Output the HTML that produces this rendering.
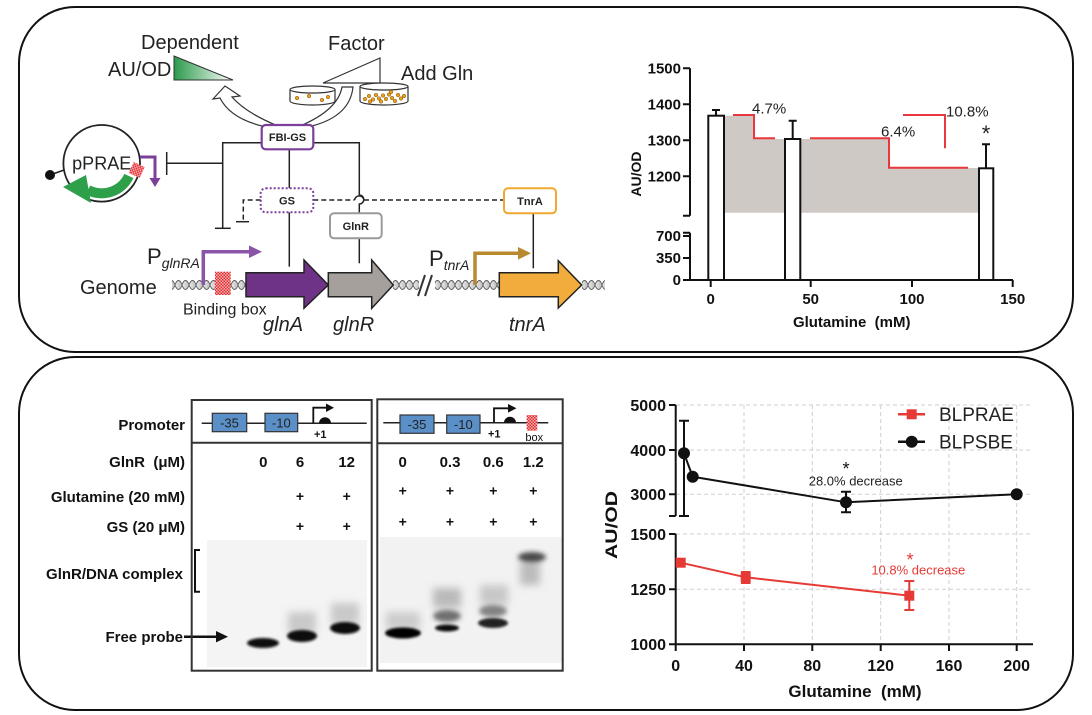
<!DOCTYPE html>
<html>
<head>
<meta charset="utf-8">
<style>
  html,body{margin:0;padding:0;background:#fff;}
  svg{display:block;}
  text{font-family:"Liberation Sans",Arial,sans-serif;}
  .b{font-weight:bold;}
</style>
</head>
<body>
<svg width="1092" height="715" viewBox="0 0 1092 715" xmlns="http://www.w3.org/2000/svg">
<defs>
  <linearGradient id="gg" x1="0" y1="0" x2="1" y2="0">
    <stop offset="0" stop-color="#2b9a4c"/>
    <stop offset="1" stop-color="#ffffff"/>
  </linearGradient>
  <pattern id="chk" width="3" height="3" patternUnits="userSpaceOnUse">
    <rect width="3" height="3" fill="#f6b3b3"/>
    <rect width="1.5" height="1.5" fill="#e3282c"/>
    <rect x="1.5" y="1.5" width="1.5" height="1.5" fill="#e3282c"/>
  </pattern>
  <pattern id="dna" x="0" y="278" width="14" height="14" patternUnits="userSpaceOnUse">
    <path d="M2,3V11M3.2,2.5V11.5M4.4,2.5V11.5M5.6,3.5V10.5M9,3V11M10.2,2.5V11.5M11.4,2.5V11.5M12.6,3.5V10.5" stroke="#b5b5b5" stroke-width="0.7"/>
    <path d="M0,7C2,1 5,1 7,7C9,13 12,13 14,7" fill="none" stroke="#555" stroke-width="0.9"/>
    <path d="M0,7C2,13 5,13 7,7C9,1 12,1 14,7" fill="none" stroke="#555" stroke-width="0.9"/>
  </pattern>
  <filter id="bl1" x="-50%" y="-50%" width="200%" height="200%"><feGaussianBlur stdDeviation="1.2"/></filter>
  <filter id="bl2" x="-50%" y="-50%" width="200%" height="200%"><feGaussianBlur stdDeviation="2.5"/></filter>
  <filter id="bl3" x="-50%" y="-50%" width="200%" height="200%"><feGaussianBlur stdDeviation="4"/></filter>
</defs>

<!-- Panel borders -->
<rect x="19" y="7" width="1054" height="345" rx="56" ry="56" fill="none" stroke="#111" stroke-width="2"/>
<rect x="19" y="357" width="1054" height="353" rx="56" ry="56" fill="none" stroke="#111" stroke-width="2"/>

<!-- ================= TOP LEFT DIAGRAM ================= -->
<text x="141" y="49" font-size="20" fill="#222">Dependent</text>
<text x="108" y="76" font-size="20" fill="#222">AU/OD</text>
<polygon points="174,56 233,80 174,80" fill="url(#gg)" stroke="#333" stroke-width="1"/>

<text x="328" y="50" font-size="20" fill="#222">Factor</text>
<polygon points="323,83 380,58 380,83" fill="#fff" stroke="#333" stroke-width="1.2"/>
<text x="401" y="80" font-size="20" fill="#222">Add Gln</text>

<!-- hollow curved arrows -->
<path d="M262,126 Q230,118 220,98 L213,99 L225,86 L240,96 L232,97 Q246,113 278,126 Z" fill="#fff" stroke="#333" stroke-width="1.2"/>
<path d="M300,126 Q338,110 342,87 L353,87 Q350,116 312,126 Z" fill="#fff" stroke="#333" stroke-width="1.2"/>

<!-- dishes -->
<path d="M290,89.5 V101 A22.5,4 0 0 0 335,101 V89.5" fill="#fff" stroke="#333" stroke-width="1.2"/>
<ellipse cx="312.5" cy="89.5" rx="22.5" ry="3.5" fill="#fff" stroke="#333" stroke-width="1.2"/>
<g fill="#f0a020" stroke="#7a5000" stroke-width="0.5">
  <circle cx="297" cy="98" r="1.8"/><circle cx="309" cy="96" r="1.8"/><circle cx="322" cy="100" r="1.8"/><circle cx="328" cy="97" r="1.8"/>
</g>
<path d="M360,86.5 V101 A24,4 0 0 0 408,101 V86.5" fill="#fff" stroke="#333" stroke-width="1.2"/>
<ellipse cx="384" cy="86.5" rx="24" ry="3.5" fill="#fff" stroke="#333" stroke-width="1.2"/>
<g fill="#f0a020" stroke="#7a5000" stroke-width="0.5">
  <circle cx="365" cy="99" r="1.8"/><circle cx="369" cy="96" r="1.8"/><circle cx="373" cy="99.5" r="1.8"/><circle cx="376" cy="95" r="1.8"/>
  <circle cx="379" cy="98.5" r="1.8"/><circle cx="383" cy="95.5" r="1.8"/><circle cx="386" cy="99" r="1.8"/><circle cx="389" cy="94.5" r="1.8"/>
  <circle cx="392" cy="98" r="1.8"/><circle cx="395" cy="101" r="1.8"/><circle cx="398" cy="95" r="1.8"/><circle cx="401" cy="98.5" r="1.8"/>
  <circle cx="404" cy="96" r="1.8"/><circle cx="370" cy="101.5" r="1.8"/><circle cx="381" cy="101.5" r="1.8"/><circle cx="391" cy="92" r="1.8"/>
</g>

<!-- plasmid -->
<circle cx="101.7" cy="163.3" r="38.3" fill="#fff" stroke="#222" stroke-width="1.8"/>
<text x="101.7" y="169.5" font-size="18" text-anchor="middle" fill="#222">pPRAE</text>
<line x1="50" y1="175" x2="64" y2="170" stroke="#222" stroke-width="1.5"/>
<circle cx="50" cy="175" r="5" fill="#111"/>
<path d="M128.9,176 A30,30 0 0 1 88,190" fill="none" stroke="#2ea04a" stroke-width="10"/>
<polygon points="63,187 86,175 91,203" fill="#2ea04a"/>
<rect x="130.7" y="164" width="12" height="12" fill="url(#chk)" transform="rotate(25 136.7 170)"/>
<path d="M140,157 H155 V179" fill="none" stroke="#7b3f9a" stroke-width="3"/>
<polygon points="149.5,178 160.5,178 155,187" fill="#7b3f9a"/>

<!-- network lines -->
<g stroke="#222" stroke-width="1.5" fill="none">
  <path d="M261.7,142.7 H222.7 V228.3"/>
  <path d="M215,228.3 H230.7"/>
  <path d="M222.7,163.3 H166.7"/>
  <path d="M166.7,152 V175"/>
  <path d="M313.3,142.7 H359.3 V195 A4.5,4.5 0 0 1 359.3,204 V213.3"/>
  <path d="M289.3,149.3 V188.3"/>
  <path d="M289.3,212.3 V266.7"/>
  <path d="M359.3,238.3 V263.3"/>
  <path d="M533.3,213.3 V268.3"/>
  <path d="M236,221.7 H249"/>
</g>
<g stroke="#222" stroke-width="1.5" fill="none" stroke-dasharray="5,3">
  <path d="M260.7,200 H243.3 V221.7"/>
  <path d="M313.3,200 H354.5"/>
  <path d="M364,200 H504"/>
</g>
<path d="M354.5,200 A4.8,4.8 0 0 1 364,200" fill="none" stroke="#222" stroke-width="1.5"/>

<!-- boxes -->
<rect x="261.7" y="125" width="51.6" height="24.3" rx="4" fill="#fff" stroke="#7b3f9a" stroke-width="2.2"/>
<text x="287.5" y="141.2" font-size="11" text-anchor="middle" class="b" fill="#222">FBI-GS</text>
<rect x="260.7" y="188.3" width="52.6" height="24" rx="5" fill="#fff" stroke="#7b3f9a" stroke-width="2" stroke-dasharray="2,2"/>
<text x="287" y="204.5" font-size="11" text-anchor="middle" class="b" fill="#222">GS</text>
<rect x="330" y="213.3" width="51.7" height="25" rx="4" fill="#fff" stroke="#9a9a9a" stroke-width="2"/>
<text x="355.8" y="230" font-size="11" text-anchor="middle" class="b" fill="#222">GlnR</text>
<rect x="504" y="188.3" width="52" height="25" rx="4" fill="#fff" stroke="#f0a830" stroke-width="2"/>
<text x="530" y="205" font-size="11" text-anchor="middle" class="b" fill="#222">TnrA</text>

<!-- genome -->
<text x="80" y="294" font-size="20" fill="#222">Genome</text>
<rect x="172" y="278" width="74" height="14" fill="url(#dna)"/>
<rect x="393" y="278" width="107" height="14" fill="url(#dna)"/>
<rect x="582" y="278" width="23" height="14" fill="url(#dna)"/>
<rect x="419" y="276" width="16" height="19" fill="#fff"/>
<path d="M418,296 L425,275 M425,296 L432,275" stroke="#333" stroke-width="2"/>
<rect x="215" y="271.7" width="15.7" height="23.3" fill="url(#chk)"/>

<polygon points="246,272.7 304,272.7 304,260 328.3,285 304,308.3 304,296.7 246,296.7" fill="#6e3386" stroke="#222" stroke-width="1.5"/>
<polygon points="328.3,272.7 371.7,272.7 371.7,260 393.3,285 371.7,308.3 371.7,296.7 328.3,296.7" fill="#a5a09c" stroke="#222" stroke-width="1.5"/>
<polygon points="499.3,272.7 558.3,272.7 558.3,260.7 581.7,285 558.3,308 558.3,296.7 499.3,296.7" fill="#f2ac3c" stroke="#222" stroke-width="1.5"/>

<path d="M203.3,285 V251.7 H250" fill="none" stroke="#8a55a8" stroke-width="3.5"/>
<polygon points="249,245.5 262,251.7 249,258" fill="#8a55a8"/>
<path d="M475,285 V253.3 H519" fill="none" stroke="#b8892e" stroke-width="3.5"/>
<polygon points="518,247 531,253.3 518,259.6" fill="#b8892e"/>

<text x="147" y="264" font-size="22" fill="#222">P<tspan font-size="14" font-style="italic" dy="4">glnRA</tspan></text>
<text x="429" y="266" font-size="22" fill="#222">P<tspan font-size="14" font-style="italic" dy="4">tnrA</tspan></text>
<text x="183" y="314.5" font-size="16" fill="#222">Binding box</text>
<text x="263" y="331" font-size="20" font-style="italic" fill="#222">glnA</text>
<text x="333" y="331" font-size="20" font-style="italic" fill="#222">glnR</text>
<text x="509" y="331" font-size="20" font-style="italic" fill="#222">tnrA</text>

<!-- ================= TOP RIGHT CHART ================= -->
<polygon points="724,115.7 755,115.7 755,139 889,139 889,168 979,168 979,212.7 724,212.7" fill="#cfc9c5"/>
<g stroke="#e8383d" stroke-width="2" fill="none">
  <path d="M733,115 H754 V138.3 H775"/>
  <path d="M810,138.3 H889 V167.7 H968"/>
  <path d="M903,115 H945 V148.3"/>
</g>
<g stroke="#111" stroke-width="2" fill="#fff">
  <rect x="708.3" y="115.7" width="15.7" height="164.3"/>
  <rect x="785" y="139" width="15.3" height="141"/>
  <rect x="979" y="168.3" width="14.3" height="111.7"/>
</g>
<g stroke="#111" stroke-width="2" fill="none">
  <path d="M716,115.7 V110 M712,110 H720"/>
  <path d="M792.7,139 V120.7 M788.7,120.7 H796.7"/>
  <path d="M986,168.3 V144.3 M982,144.3 H990"/>
  <!-- axes -->
  <path d="M690,68.3 V215.7 M683,215.7 H690"/>
  <path d="M690,232.7 V280 M683,232.7 H690"/>
  <path d="M683,68.3 H690 M683,104.3 H690 M683,140.3 H690 M683,176.3 H690"/>
  <path d="M683,236 H690 M683,258 H690"/>
  <path d="M683,280 H1013"/>
  <path d="M710.7,280 V287 M810.7,280 V287 M912,280 V287 M1012.7,280 V287"/>
</g>
<g font-size="15" class="b" fill="#111" text-anchor="end">
  <text x="681" y="73.5">1500</text>
  <text x="681" y="109.5">1400</text>
  <text x="681" y="145.5">1300</text>
  <text x="681" y="181.5">1200</text>
  <text x="681" y="241">700</text>
  <text x="681" y="263">350</text>
  <text x="681" y="285">0</text>
</g>
<g font-size="15" class="b" fill="#111" text-anchor="middle">
  <text x="710.7" y="304">0</text>
  <text x="810.7" y="304">50</text>
  <text x="912" y="304">100</text>
  <text x="1012.7" y="304">150</text>
  <text x="851.7" y="327" xml:space="preserve">Glutamine  (mM)</text>
</g>
<text transform="translate(641,174) rotate(-90)" font-size="14" class="b" text-anchor="middle" fill="#111">AU/OD</text>
<g font-size="15" fill="#222">
  <text x="752" y="113.5">4.7%</text>
  <text x="881" y="136.5">6.4%</text>
  <text x="946" y="116.5">10.8%</text>
</g>
<text x="986" y="141" font-size="22" text-anchor="middle" fill="#222">*</text>

<!-- ================= BOTTOM LEFT GEL ================= -->
<g font-size="15" class="b" fill="#111" text-anchor="end">
  <text x="185" y="430">Promoter</text>
  <text x="185" y="467" xml:space="preserve">GlnR  (μM)</text>
  <text x="185" y="502">Glutamine (20 mM)</text>
  <text x="185" y="532">GS (20 μM)</text>
  <text x="183" y="579">GlnR/DNA complex</text>
  <text x="183" y="642">Free probe</text>
</g>
<path d="M200,550 H195 V591.7 H200" fill="none" stroke="#111" stroke-width="2"/>

<!-- gel images -->
<rect x="207" y="540" width="160" height="127" fill="#f4f4f4"/>
<rect x="380" y="537" width="182" height="126" fill="#f2f2f2"/>
<g filter="url(#bl3)">
  <rect x="288" y="612" width="28" height="22" fill="#777" opacity="0.35"/>
  <rect x="331" y="603" width="28" height="22" fill="#777" opacity="0.35"/>
  <rect x="386" y="612" width="34" height="18" fill="#888" opacity="0.35"/>
  <rect x="433" y="588" width="28" height="20" fill="#777" opacity="0.45"/>
  <rect x="480" y="585" width="28" height="20" fill="#888" opacity="0.4"/>
  <rect x="520" y="560" width="20" height="25" fill="#888" opacity="0.5"/>
</g>
<g filter="url(#bl2)">
  <ellipse cx="447" cy="616" rx="14" ry="6" fill="#444" opacity="0.75"/>
  <ellipse cx="493" cy="611" rx="14" ry="6" fill="#555" opacity="0.7"/>
  <ellipse cx="532" cy="557" rx="14" ry="5" fill="#222" opacity="0.8"/>
</g>
<g filter="url(#bl1)">
  <ellipse cx="263" cy="643" rx="16" ry="5" fill="#0a0a0a"/>
  <ellipse cx="302" cy="636" rx="15" ry="6" fill="#0a0a0a"/>
  <ellipse cx="345" cy="628" rx="15" ry="6" fill="#0a0a0a"/>
  <ellipse cx="403" cy="633" rx="18" ry="5.5" fill="#050505"/>
  <ellipse cx="447" cy="628" rx="12" ry="3.5" fill="#111"/>
  <ellipse cx="493" cy="623" rx="15" ry="5" fill="#222"/>
</g>

<!-- free probe arrow (drawn over gel) -->
<path d="M184,636.7 H218" stroke="#111" stroke-width="2.5"/>
<polygon points="216,631 228,636.7 216,642.4" fill="#111"/>

<rect x="191.7" y="400" width="180" height="270.7" fill="none" stroke="#333" stroke-width="2"/>
<line x1="191.7" y1="442.7" x2="371.7" y2="442.7" stroke="#333" stroke-width="2"/>
<rect x="377.3" y="399.3" width="185.4" height="271.4" fill="none" stroke="#333" stroke-width="2"/>
<line x1="377.3" y1="443.3" x2="562.7" y2="443.3" stroke="#333" stroke-width="2"/>

<!-- promoter diagrams -->
<line x1="201.7" y1="423.3" x2="366.7" y2="423.3" stroke="#222" stroke-width="1.5"/>
<rect x="212.3" y="413.3" width="34.4" height="18.4" fill="#5b8fc7" stroke="#333" stroke-width="1.2"/>
<rect x="265" y="413.3" width="32.7" height="18.4" fill="#5b8fc7" stroke="#333" stroke-width="1.2"/>
<text x="229.5" y="427.5" font-size="13" text-anchor="middle" fill="#222">-35</text>
<text x="281.3" y="427.5" font-size="13" text-anchor="middle" fill="#222">-10</text>
<path d="M313.3,423.3 V407.7 H327" fill="none" stroke="#111" stroke-width="1.8"/>
<polygon points="326,403.5 334,407.7 326,412" fill="#111"/>
<path d="M319,423.3 A6,6 0 0 1 331,423.3 Z" fill="#111"/>
<text x="314" y="438" font-size="11" class="b" fill="#111">+1</text>

<line x1="383.3" y1="422.7" x2="548.3" y2="422.7" stroke="#222" stroke-width="1.5"/>
<rect x="400" y="415" width="34" height="18.3" fill="#5b8fc7" stroke="#333" stroke-width="1.2"/>
<rect x="446.7" y="415" width="33.3" height="18.3" fill="#5b8fc7" stroke="#333" stroke-width="1.2"/>
<text x="417" y="429" font-size="13" text-anchor="middle" fill="#222">-35</text>
<text x="463.3" y="429" font-size="13" text-anchor="middle" fill="#222">-10</text>
<path d="M494,422.7 V408.3 H509" fill="none" stroke="#111" stroke-width="1.8"/>
<polygon points="508,404 516.5,408.3 508,412.6" fill="#111"/>
<path d="M504,422.7 A6,6 0 0 1 516,422.7 Z" fill="#111"/>
<text x="488" y="437.5" font-size="11" class="b" fill="#111">+1</text>
<rect x="526.7" y="415" width="10.6" height="15.7" fill="url(#chk)"/>
<text x="534.3" y="441" font-size="11" text-anchor="middle" fill="#111">box</text>

<g font-size="15" class="b" fill="#111" text-anchor="middle">
  <text x="263.3" y="467">0</text>
  <text x="300" y="467">6</text>
  <text x="346.7" y="467">12</text>
  <text x="402.7" y="467">0</text>
  <text x="450" y="467">0.3</text>
  <text x="493.3" y="467">0.6</text>
  <text x="533.3" y="467">1.2</text>
</g>
<g font-size="14" class="b" fill="#111" text-anchor="middle">
  <text x="300" y="501">+</text><text x="346.7" y="501">+</text>
  <text x="300" y="531">+</text><text x="346.7" y="531">+</text>
  <text x="402.7" y="495.5">+</text><text x="450" y="495.5">+</text><text x="493.3" y="495.5">+</text><text x="533.3" y="495.5">+</text>
  <text x="402.7" y="526.5">+</text><text x="450" y="526.5">+</text><text x="493.3" y="526.5">+</text><text x="533.3" y="526.5">+</text>
</g>

<!-- ================= BOTTOM RIGHT CHART ================= -->
<g stroke="#cfcfcf" stroke-width="1" stroke-dasharray="4,3" fill="none">
  <path d="M676,405 H1033 M676,450 H1033 M676,494.3 H1033 M676,534 H1033 M676,589.3 H1033"/>
  <path d="M744,405 V644 M812.3,405 V644 M880.7,405 V644 M949,405 V644 M1016.7,405 V644"/>
</g>
<g stroke="#111" stroke-width="2" fill="none">
  <path d="M675.7,405 V516 M669,516 H675.7"/>
  <path d="M669,405 H675.7 M669,450 H675.7 M669,494.3 H675.7"/>
  <path d="M675.7,534 V644.3"/>
  <path d="M669,534 H675.7 M669,589.3 H675.7 M669,644.3 H675.7"/>
  <path d="M675.7,644.3 H1033"/>
  <path d="M675.7,644.3 V651 M744,644.3 V651 M812.3,644.3 V651 M880.7,644.3 V651 M949,644.3 V651 M1016.7,644.3 V651"/>
</g>
<g font-size="16" class="b" fill="#111" text-anchor="end">
  <text x="666" y="411">5000</text>
  <text x="666" y="456">4000</text>
  <text x="666" y="500">3000</text>
  <text x="666" y="540">1500</text>
  <text x="666" y="595">1250</text>
  <text x="666" y="650">1000</text>
</g>
<g font-size="16" class="b" fill="#111" text-anchor="middle">
  <text x="675.7" y="671">0</text>
  <text x="744" y="671">40</text>
  <text x="812.3" y="671">80</text>
  <text x="880.7" y="671">120</text>
  <text x="949" y="671">160</text>
  <text x="1016.7" y="671">200</text>
</g>
<text x="855" y="697" font-size="17" class="b" text-anchor="middle" fill="#111" xml:space="preserve">Glutamine  (mM)</text>
<text transform="translate(617,525) rotate(-90)" font-size="17" class="b" text-anchor="middle" fill="#111" textLength="68" lengthAdjust="spacingAndGlyphs">AU/OD</text>

<!-- black series -->
<g stroke="#111" stroke-width="2" fill="none">
  <path d="M684,453.3 L692.7,476.7 L846,502.3 L1016.7,494.3"/>
  <path d="M684,420.7 V516 M679,420.7 H689 M679,516 H689"/>
  <path d="M846,491.7 V512.3 M841,491.7 H851 M841,512.3 H851"/>
</g>
<g fill="#111">
  <circle cx="684" cy="453.3" r="6"/>
  <circle cx="692.7" cy="476.7" r="6"/>
  <circle cx="846" cy="502.3" r="6"/>
  <circle cx="1016.7" cy="494.3" r="6"/>
</g>
<!-- red series -->
<g stroke="#e53a35" stroke-width="2" fill="none">
  <path d="M680.7,562.7 L745.7,577.3 L909.3,595.7"/>
  <path d="M745.7,572 V583 M741,572 H750.5 M741,583 H750.5"/>
  <path d="M909.3,581 V610 M904.3,581 H914.3 M904.3,610 H914.3"/>
</g>
<g fill="#e53a35">
  <rect x="675.7" y="557.7" width="10" height="10"/>
  <rect x="740.7" y="572.3" width="10" height="10"/>
  <rect x="904.3" y="590.7" width="10" height="10"/>
</g>
<!-- annotations -->
<text x="846" y="475" font-size="18" text-anchor="middle" fill="#111">*</text>
<text x="855.7" y="485.5" font-size="13" text-anchor="middle" fill="#222">28.0% decrease</text>
<text x="910" y="566" font-size="18" text-anchor="middle" fill="#e53a35">*</text>
<text x="918.3" y="574.5" font-size="13" text-anchor="middle" fill="#e53a35">10.8% decrease</text>
<!-- legend -->
<line x1="898" y1="414.3" x2="925" y2="414.3" stroke="#e53a35" stroke-width="2.5"/>
<rect x="906.7" y="409.3" width="10" height="10" fill="#e53a35"/>
<text x="939" y="421" font-size="19" fill="#222">BLPRAE</text>
<line x1="898" y1="441.7" x2="925" y2="441.7" stroke="#111" stroke-width="2.5"/>
<circle cx="911.7" cy="441.7" r="6" fill="#111"/>
<text x="939" y="448.5" font-size="19" fill="#222">BLPSBE</text>
</svg>
</body>
</html>
